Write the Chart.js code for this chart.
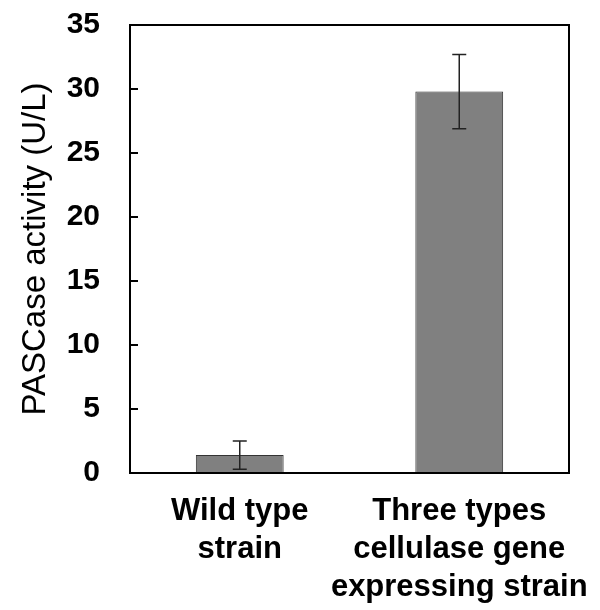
<!DOCTYPE html>
<html>
<head>
<meta charset="utf-8">
<script src="https://cdn.jsdelivr.net/npm/chart.js@4"></script>
<style>
html,body{margin:0;padding:0;background:#fff;}
#wrap{width:600px;height:610px;}
</style>
</head>
<body>
<div id="wrap"><canvas id="c" width="600" height="610"></canvas></div>
<script>
const categories = [["Wild type", "strain"], ["Three types", "cellulase gene", "expressing strain"]];
const values = [1.4, 29.8];
const errors = [1.1, 2.9];
const yTicks = [0, 5, 10, 15, 20, 25, 30, 35];

const errorBarPlugin = {
  id: 'errorBars',
  afterDatasetsDraw(chart) {
    const ctx = chart.ctx;
    const xs = chart.scales.x, ys = chart.scales.y;
    ctx.save();
    ctx.strokeStyle = '#222';
    ctx.lineWidth = 1.5;
    values.forEach((v, i) => {
      const x = xs.getPixelForValue(i);
      const yTop = ys.getPixelForValue(v + errors[i]);
      const yBot = ys.getPixelForValue(v - errors[i]);
      ctx.beginPath();
      ctx.moveTo(x, yTop); ctx.lineTo(x, yBot);
      ctx.moveTo(x - 7, yTop); ctx.lineTo(x + 7, yTop);
      ctx.moveTo(x - 7, yBot); ctx.lineTo(x + 7, yBot);
      ctx.stroke();
    });
    ctx.restore();
  }
};

const framePlugin = {
  id: 'frame',
  afterDraw(chart) {
    const ctx = chart.ctx;
    const a = chart.chartArea;
    const ys = chart.scales.y;
    ctx.save();
    ctx.strokeStyle = '#000';
    ctx.lineWidth = 2;
    ctx.strokeRect(a.left, a.top, a.right - a.left, a.bottom - a.top);
    ctx.beginPath();
    yTicks.forEach(t => {
      const y = ys.getPixelForValue(t);
      ctx.moveTo(a.left, y); ctx.lineTo(a.left + 8, y);
    });
    ctx.stroke();
    ctx.restore();
  }
};

function zeroPad(s) { s.paddingTop = 0; s.paddingBottom = 0; s.paddingLeft = 0; s.paddingRight = 0; }

new Chart(document.getElementById('c'), {
  type: 'bar',
  data: {
    labels: categories,
    datasets: [{
      data: values,
      backgroundColor: '#808080',
      borderColor: '#333',
      borderWidth: 1,
      barPercentage: 0.4,
      categoryPercentage: 1.0
    }]
  },
  options: {
    responsive: false,
    animation: false,
    layout: { padding: { top: 25, right: 31, left: 0, bottom: 0 } },
    plugins: { legend: { display: false }, tooltip: { enabled: false } },
    scales: {
      x: {
        grid: { display: false, drawTicks: false },
        border: { display: false },
        ticks: {
          color: '#000',
          padding: 20,
          maxRotation: 0,
          autoSkip: false,
          font: { family: 'Liberation Sans', size: 31, weight: 'bold', lineHeight: 1.22 }
        },
        afterFit(s) { s.height = 137; zeroPad(s); }
      },
      y: {
        min: 0, max: 35,
        afterBuildTicks(s) { s.ticks = yTicks.map(v => ({ value: v })); },
        grid: { display: false, drawTicks: false },
        border: { display: false },
        ticks: {
          color: '#000',
          padding: 30,
          font: { family: 'Liberation Sans', size: 30, weight: 'bold' }
        },
        title: {
          display: true,
          text: 'PASCase activity (U/L)',
          color: '#000',
          padding: { top: 16, bottom: 0 },
          font: { family: 'Liberation Sans', size: 33, weight: 'normal' }
        },
        afterFit(s) { s.width = 130; zeroPad(s); }
      }
    }
  },
  plugins: [errorBarPlugin, framePlugin]
});
</script>
</body>
</html>
